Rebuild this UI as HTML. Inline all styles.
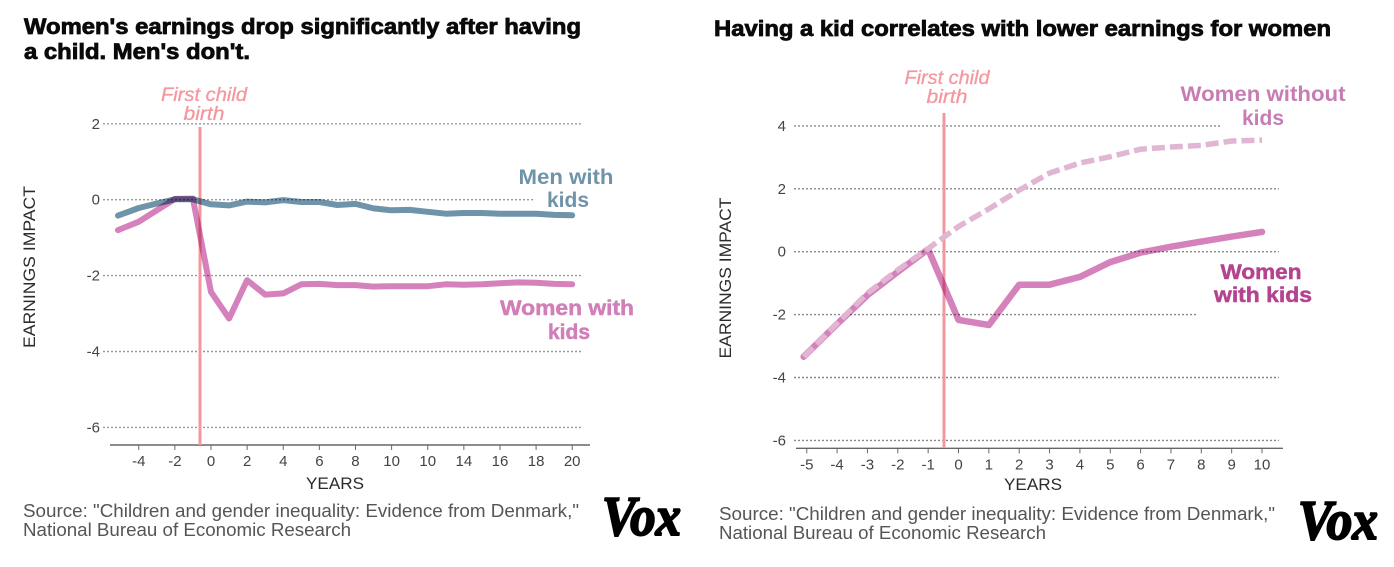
<!DOCTYPE html>
<html lang="en">
<head>
<meta charset="utf-8">
<title>Earnings impact of having a child</title>
<style>
html,body{margin:0;padding:0;background:#fff;width:1394px;height:567px;overflow:hidden}
svg{display:block}
text{font-family:"Liberation Sans",sans-serif}
.title{font-weight:700;font-size:22px;fill:#0a0a0a;stroke:#0a0a0a;stroke-width:.8px}
.birth{font-style:italic;font-weight:400;font-size:19px;fill:#f4989f;stroke:#f4989f;stroke-width:.3px;text-anchor:middle}
.axis-title{font-size:17px;fill:#2b2b2b}
.tick{font-size:15px;fill:#444}
.source{font-size:18px;fill:#555}
.label{font-size:21px;font-weight:700;text-anchor:middle}
.vox{font-family:"Liberation Serif",serif;font-weight:700;font-style:italic;font-size:56px;fill:#000;stroke:#000;stroke-width:2px}
.series{fill:none;stroke-linecap:round;stroke-linejoin:round;mix-blend-mode:multiply}
</style>
</head>
<body>
<svg id="chart" xmlns="http://www.w3.org/2000/svg" width="1394" height="567" viewBox="0 0 1394 567">
  <g id="left-grid"></g>
  <g id="right-grid"></g>
  <g id="left-axis"></g>
  <g id="right-axis"></g>
  <line x1="200" x2="200" y1="127" y2="445" stroke="#f4989f" stroke-width="3"/>
  <line x1="944" x2="944" y1="113" y2="448" stroke="#f4989f" stroke-width="3"/>
  <g id="left-series"></g>
  <g id="right-series"></g>

  <text class="title" x="24" y="34" textLength="557" lengthAdjust="spacingAndGlyphs">Women's earnings drop significantly after having</text>
  <text class="title" x="24" y="59" textLength="226" lengthAdjust="spacingAndGlyphs">a child. Men's don't.</text>
  <text class="title" x="714" y="36" textLength="617" lengthAdjust="spacingAndGlyphs">Having a kid correlates with lower earnings for women</text>

  <text class="birth" x="204" y="101" textLength="86" lengthAdjust="spacingAndGlyphs">First child</text>
  <text class="birth" x="204" y="120" textLength="41" lengthAdjust="spacingAndGlyphs">birth</text>
  <text class="birth" x="947" y="84" textLength="85" lengthAdjust="spacingAndGlyphs">First child</text>
  <text class="birth" x="947" y="103" textLength="41" lengthAdjust="spacingAndGlyphs">birth</text>

  <text class="label" x="566" y="184" fill="#6f93a9" textLength="95" lengthAdjust="spacingAndGlyphs">Men with</text>
  <text class="label" x="568" y="207" fill="#6f93a9">kids</text>
  <text class="label" x="567" y="315" fill="#d07fb8" stroke="#d07fb8" stroke-width=".5" textLength="134" lengthAdjust="spacingAndGlyphs">Women with</text>
  <text class="label" x="569" y="339" fill="#d07fb8" stroke="#d07fb8" stroke-width=".5">kids</text>
  <text class="label" x="1263" y="101" fill="#c77db3" textLength="165" lengthAdjust="spacingAndGlyphs">Women without</text>
  <text class="label" x="1263" y="125" fill="#c77db3">kids</text>
  <text class="label" x="1261" y="279" fill="#b4448f" stroke="#b4448f" stroke-width=".5" textLength="81" lengthAdjust="spacingAndGlyphs">Women</text>
  <text class="label" x="1263" y="302" fill="#b4448f" stroke="#b4448f" stroke-width=".5" textLength="98" lengthAdjust="spacingAndGlyphs">with kids</text>

  <text class="axis-title" transform="translate(35 267) rotate(-90)" text-anchor="middle" textLength="162" lengthAdjust="spacingAndGlyphs">EARNINGS IMPACT</text>
  <text class="axis-title" transform="translate(731 278) rotate(-90)" text-anchor="middle" textLength="161" lengthAdjust="spacingAndGlyphs">EARNINGS IMPACT</text>
  <text class="axis-title" x="335" y="489" text-anchor="middle" textLength="58" lengthAdjust="spacingAndGlyphs">YEARS</text>
  <text class="axis-title" x="1033" y="490" text-anchor="middle" textLength="58" lengthAdjust="spacingAndGlyphs">YEARS</text>

  <text class="source" x="23" y="517" textLength="556" lengthAdjust="spacingAndGlyphs">Source: "Children and gender inequality: Evidence from Denmark,"</text>
  <text class="source" x="23" y="536" textLength="328" lengthAdjust="spacingAndGlyphs">National Bureau of Economic Research</text>
  <text class="source" x="719" y="520" textLength="556" lengthAdjust="spacingAndGlyphs">Source: "Children and gender inequality: Evidence from Denmark,"</text>
  <text class="source" x="719" y="539" textLength="327" lengthAdjust="spacingAndGlyphs">National Bureau of Economic Research</text>

  <text class="vox" x="602" y="535" textLength="79" lengthAdjust="spacingAndGlyphs">Vox</text>
  <text class="vox" x="1298" y="539" textLength="80" lengthAdjust="spacingAndGlyphs">Vox</text>
</svg>
<script>
// Left chart data
const leftYTicks = [2, 0, -2, -4, -6];
const leftXTicks = [-4, -2, 0, 2, 4, 6, 8, 10, 12, 14, 16, 18, 20];
const leftXLabels = ['-4', '-2', '0', '2', '4', '6', '8', '10', '10', '14', '16', '18', '20'];
const leftYears = [-5.15, -4, -3, -2, -1, 0, 1, 2, 3, 4, 5, 6, 7, 8, 9, 10, 11, 12, 13, 14, 15, 16, 17, 18, 19, 20];
const menWithKids = [-0.42, -0.22, -0.1, 0.01, 0.01, -0.12, -0.15, -0.05, -0.07, -0.01, -0.06, -0.06, -0.14, -0.11, -0.23, -0.28, -0.27, -0.32, -0.37, -0.35, -0.35, -0.37, -0.37, -0.37, -0.4, -0.41];
const leftWomenWithKids = [-0.8, -0.58, -0.28, 0.02, 0.03, -2.43, -3.13, -2.12, -2.5, -2.47, -2.23, -2.22, -2.25, -2.25, -2.29, -2.28, -2.28, -2.28, -2.23, -2.24, -2.23, -2.2, -2.18, -2.19, -2.22, -2.23];

// Right chart data
const rightYTicks = [4, 2, 0, -2, -4, -6];
const rightXTicks = [-5, -4, -3, -2, -1, 0, 1, 2, 3, 4, 5, 6, 7, 8, 9, 10];
const rightXLabels = ['-5', '-4', '-3', '-2', '-1', '0', '1', '2', '3', '4', '5', '6', '7', '8', '9', '10'];
const rightYears = [-5.1, -4, -3, -2, -1, 0, 1, 2, 3, 4, 5, 6, 7, 8, 9, 10];
const rightWomenWithKids = [-3.34, -2.3, -1.38, -0.64, 0.08, -2.17, -2.33, -1.05, -1.05, -0.8, -0.33, -0.03, 0.16, 0.32, 0.48, 0.63];
const womenWithoutKids = [-3.34, -2.28, -1.32, -0.58, 0.1, 0.8, 1.36, 1.96, 2.5, 2.82, 3.02, 3.26, 3.33, 3.38, 3.52, 3.55];

const NS = 'http://www.w3.org/2000/svg';
const leftX = v => 211 + 18.06 * v;
const leftY = v => 199.7 - 37.95 * v;
const rightX = v => 958.5 + 30.35 * v;
const rightY = v => 251.7 - 31.45 * v;

function make(tag, parent, attrs, content) {
  const el = document.createElementNS(NS, tag);
  Object.keys(attrs).forEach(k => el.setAttribute(k, attrs[k]));
  if (content !== undefined) el.textContent = content;
  parent.appendChild(el);
  return el;
}

function drawGrid(parent, ticks, yScale, x1, x2, labelX, endFor, gridColor) {
  ticks.forEach(t => {
    const line = make('line', parent, {x1: x1, x2: endFor(t, x2), y1: yScale(t), y2: yScale(t), stroke: gridColor, 'stroke-width': 1.4, 'stroke-dasharray': '2 2'});
    
    
    const label = make('text', parent, {x: labelX, y: yScale(t) + 5, 'text-anchor': 'end', class: 'tick'}, String(t));
    
    
  });
}

function drawAxis(parent, ticks, labels, xScale, axisY, x1, x2) {
  const base = make('line', parent, {x1: x1, x2: x2, y1: axisY, y2: axisY, stroke: '#666', 'stroke-width': 1.4});
  
  
  ticks.forEach((t, i) => {
    const tick = make('line', parent, {x1: xScale(t), x2: xScale(t), y1: axisY, y2: axisY + 5, stroke: '#666', 'stroke-width': 1});
    
    
    const label = make('text', parent, {x: xScale(t), y: axisY + 21, 'text-anchor': 'middle', class: 'tick'}, labels[i]);
    
    
  });
}

function drawSeries(parent, years, values, xScale, yScale, style) {
  const d = values.map((v, i) => (i ? 'L' : 'M') + xScale(years[i]).toFixed(1) + ' ' + yScale(v).toFixed(1)).join(' ');
  const attrs = Object.assign({d: d, class: 'series'}, style);
  return make('path', parent, attrs);
}

drawGrid(document.getElementById('left-grid'), leftYTicks, leftY, 103, 583, 100, (t, end) => t === 0 ? 535 : end, '#999');
drawGrid(document.getElementById('right-grid'), rightYTicks, rightY, 794, 1279, 786, (t, end) => t === 4 ? 1222 : t === -2 ? 1197 : end, '#888');
drawAxis(document.getElementById('left-axis'), leftXTicks, leftXLabels, leftX, 445, 110, 590);
drawAxis(document.getElementById('right-axis'), rightXTicks, rightXLabels, rightX, 448.3, 796, 1283);

const leftGroup = document.getElementById('left-series');
const rightGroup = document.getElementById('right-series');

const womenLeftPath = drawSeries(leftGroup, leftYears, leftWomenWithKids, leftX, leftY, {stroke: '#d581bb', 'stroke-width': 6});



const menPath = drawSeries(leftGroup, leftYears, menWithKids, leftX, leftY, {stroke: '#6f93a9', 'stroke-width': 6});



const womenRightPath = drawSeries(rightGroup, rightYears, rightWomenWithKids, rightX, rightY, {stroke: '#d581bb', 'stroke-width': 6.5});



const withoutPath = drawSeries(rightGroup, rightYears, womenWithoutKids, rightX, rightY, {stroke: '#e0b6d2', 'stroke-width': 5.5, 'stroke-dasharray': '13 5', style: 'stroke-linecap:butt;mix-blend-mode:normal'});


</script>
</body>
</html>
